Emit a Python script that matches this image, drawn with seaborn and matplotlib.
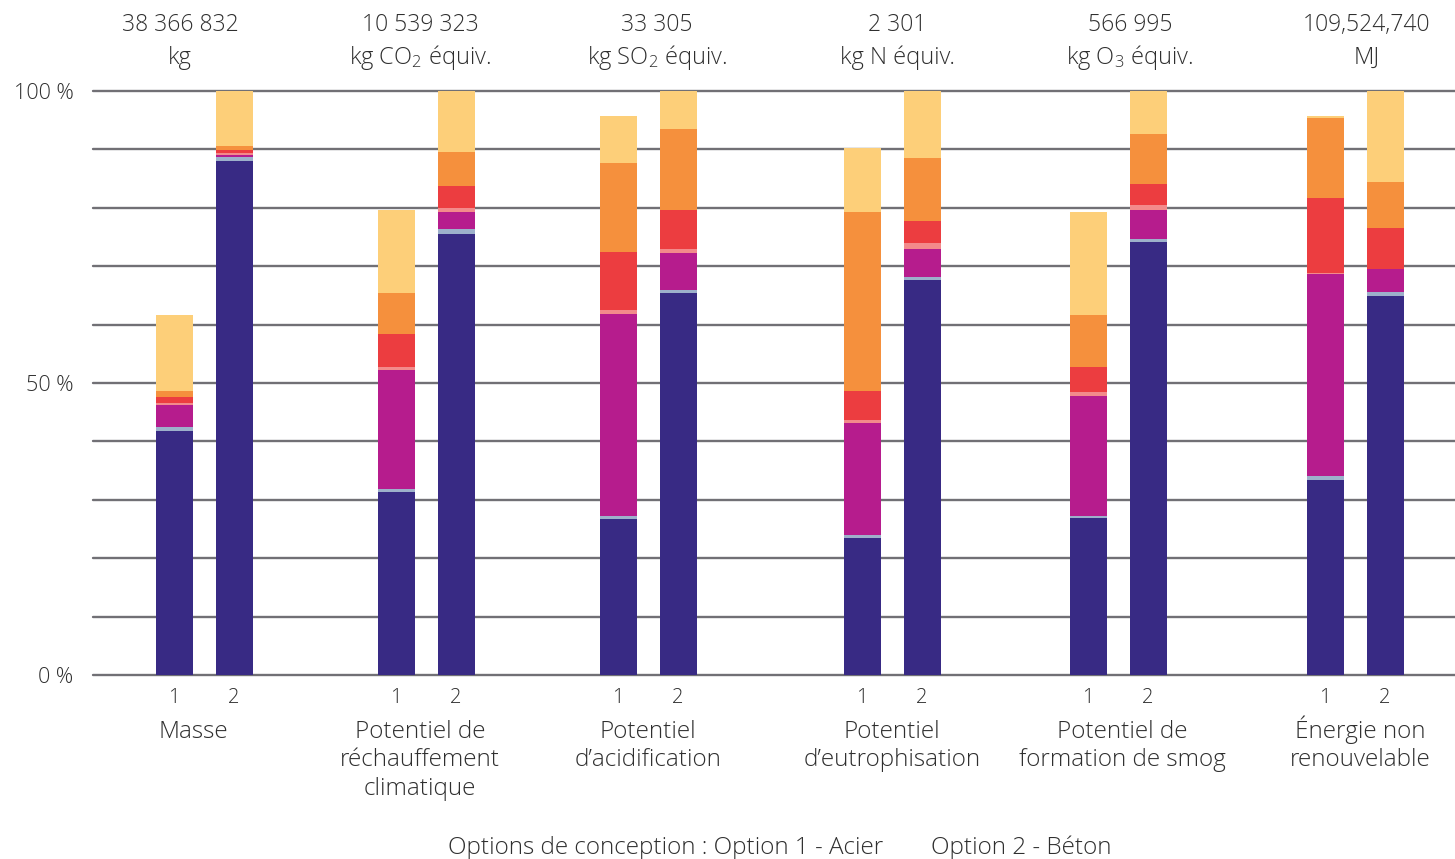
import numpy as np
import pandas as pd
import matplotlib
matplotlib.use("Agg")
import matplotlib.pyplot as plt
import matplotlib.transforms as mtransforms
import seaborn as sns

# ---- data -------------------------------------------------------------
categories = ["Masse",
              "Potentiel de\nréchauffement\nclimatique",
              "Potentiel\nd’acidification",
              "Potentiel\nd’eutrophisation",
              "Potentiel de\nformation de smog",
              "Énergie non\nrenouvelable"]
totals = ["38 366 832", "10 539 323", "33 305", "2 301", "566 995", "109,524,740"]
units = ["kg", "kg CO$_2$ équiv.", "kg SO$_2$ équiv.", "kg N équiv.",
         "kg O$_3$ équiv.", "MJ"]
options = ["1", "2"]

# share of each component (%), order: [cat1 opt1, cat1 opt2, cat2 opt1, ...]
comp_1 = [41.8, 88.0, 31.3, 75.5, 26.7, 65.4, 23.5, 67.6, 26.9, 74.1, 33.4, 64.9]
comp_2 = [0.7, 0.7, 0.5, 0.9, 0.5, 0.5, 0.4, 0.5, 0.3, 0.5, 0.7, 0.7]
comp_3 = [3.8, 0.3, 20.4, 2.9, 34.6, 6.3, 19.3, 4.8, 20.5, 5.1, 34.6, 3.9]
comp_4 = [0.35, 0.3, 0.5, 0.7, 0.7, 0.7, 0.5, 1.0, 0.7, 0.7, 0.2, 0.0]
comp_5 = [1.0, 0.6, 5.7, 3.8, 9.9, 6.7, 5.0, 3.9, 4.3, 3.6, 12.7, 7.0]
comp_6 = [1.0, 0.7, 7.0, 5.8, 15.2, 13.9, 30.5, 10.8, 8.9, 8.7, 13.7, 7.9]
comp_7 = [13.0, 9.4, 14.2, 10.4, 8.2, 6.5, 11.1, 11.4, 17.6, 7.3, 0.5, 15.6]
components = [comp_1, comp_2, comp_3, comp_4, comp_5, comp_6, comp_7]

# ---- style ------------------------------------------------------------
colors = ["#382A84", "#9DB0CB", "#B61C8D", "#F38A8B", "#EC3D40", "#F5903D", "#FDCF79"]
text_color = "#2F2F2F"
grid_color = "#717075"
font = "Open Sans"
weight = "light"

sns.set_theme(style="white")
plt.rcParams["font.family"] = [font, "DejaVu Sans"]
plt.rcParams["font.weight"] = weight
plt.rcParams["mathtext.fontset"] = "custom"
plt.rcParams["mathtext.rm"] = f"{font}:light"
plt.rcParams["mathtext.default"] = "regular"

W, H = 1455, 859
fig = plt.figure(figsize=(W / 100, H / 100), dpi=100)
ax_left, ax_right, ax_top, ax_bottom = 93, 1455, 91, 675
ax = fig.add_axes([ax_left / W, 1 - ax_bottom / H,
                   (ax_right - ax_left) / W, (ax_bottom - ax_top) / H])

# horizontal layout of the bar pairs
group_centers = [204, 426, 648, 892, 1118, 1355]
pair_offset = 30
bar_px = 37
positions = []
for c in group_centers:
    positions += [c - pair_offset, c + pair_offset]

# gridlines every 10 %
for g in range(0, 101, 10):
    ax.axhline(g, color=grid_color, lw=1.7, zorder=0, clip_on=False)

# stacked bars: draw cumulative totals from the top layer down
cum = np.cumsum(np.array(components), axis=0)
for k in range(len(components) - 1, -1, -1):
    df = pd.DataFrame({"pos": positions, "value": cum[k]})
    sns.barplot(data=df, x="pos", y="value", native_scale=True, orient="x",
                color=colors[k], saturation=1, width=bar_px / (2 * pair_offset),
                linewidth=0, errorbar=None, ax=ax, zorder=2)

ax.set_xlim(ax_left, ax_right)
ax.set_ylim(0, 100)
for s in ax.spines.values():
    s.set_visible(False)
ax.set_xticks([])
ax.set_xlabel("")
ax.set_ylabel("")
ax.set_yticks([0, 50, 100])
ax.set_yticklabels(["0 %", "50 %", "100 %"])
ax.tick_params(axis="y", length=0, pad=14, labelsize=15.5, labelcolor=text_color)

trans = mtransforms.blended_transform_factory(ax.transData, fig.transFigure)

def fy(px):
    return 1 - px / H

# option numbers under each bar
for i, p in enumerate(positions):
    ax.text(p, fy(703), options[i % 2], transform=trans, ha="center",
            va="baseline", fontsize=14.5, color=text_color)

# category names, one line at a time
label_centers = [193, 420, 648, 892, 1122, 1360]
line_step = 28.5
for x, name in zip(label_centers, categories):
    for j, line in enumerate(name.split("\n")):
        ax.text(x, fy(738 + j * line_step), line, transform=trans, ha="center",
                va="baseline", fontsize=17.5, color=text_color)

# totals and units above the chart
top_centers = [180, 420, 657, 897, 1130, 1367]
for x, t, u in zip(top_centers, totals, units):
    ax.text(x, fy(31), t, transform=trans, ha="center", va="baseline",
            fontsize=16.5, color=text_color)
    ax.text(x, fy(64), u, transform=trans, ha="center", va="baseline",
            fontsize=17, color=text_color)

fig.text(883 / W, fy(854), "Options de conception : Option 1 - Acier",
         ha="right", va="baseline", fontsize=17.5, color=text_color)
fig.text(931 / W, fy(854), "Option 2 - Béton",
         ha="left", va="baseline", fontsize=17.5, color=text_color)

fig.savefig("out.png", dpi=100, facecolor="white")
